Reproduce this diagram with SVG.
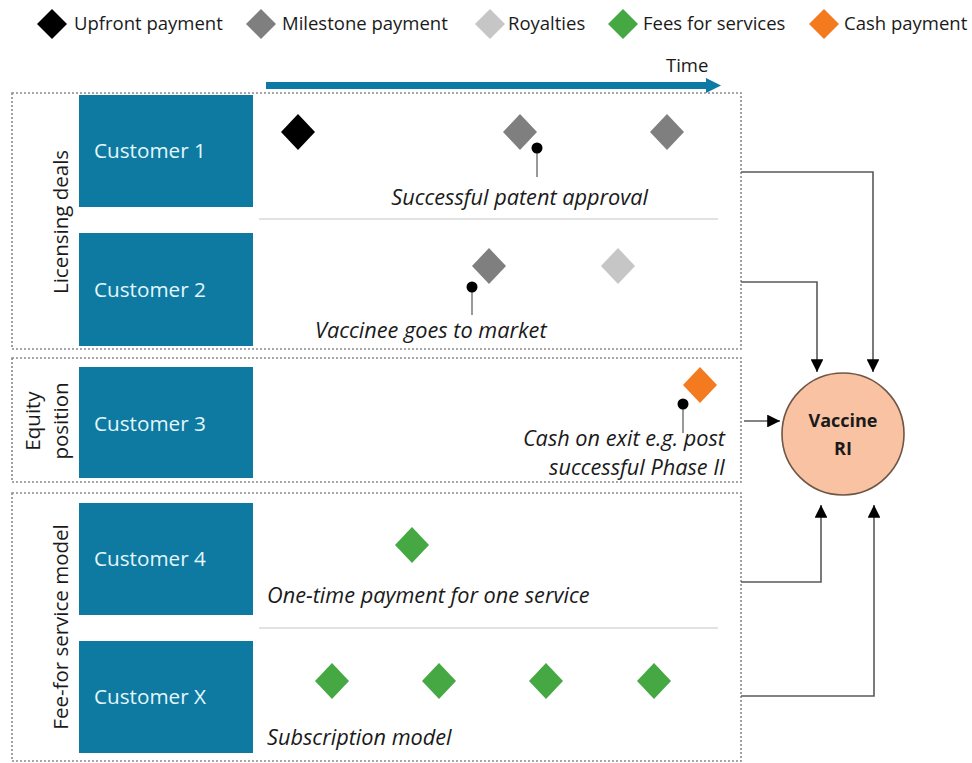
<svg xmlns="http://www.w3.org/2000/svg" width="972" height="763" viewBox="0 0 972 763">
<defs>
<style>
.lg{font-family:"Open Sans","Noto Sans",sans-serif;font-size:18.5px;fill:#1a1a1a}
.cust rect{fill:#0f7aa1}
.cust text{font-family:"Open Sans","Noto Sans",sans-serif;font-size:20.7px;fill:#e3f7fb}
.grp{fill:none;stroke:#8a8a8a;stroke-width:1.6;stroke-dasharray:2 2}
.side{font-family:"Open Sans","Noto Sans",sans-serif;font-size:20.5px;fill:#1a1a1a}
.note{font-family:"Open Sans","Noto Sans",sans-serif;font-size:21.7px;font-style:italic;fill:#1a1a1a}
.sep{stroke:#d9d9d9;stroke-width:1.5}
.pin line{stroke:#777;stroke-width:1.5}
.pin circle{fill:#000}
.conn{fill:none;stroke:#5a5a5a;stroke-width:1.6}
.blk{fill:#000}.mil{fill:#7f7f7f}.roy{fill:#c6c6c6}.fee{fill:#45a843}.cash{fill:#f47a20}
</style>
<marker id="ah" viewBox="0 0 10 10" refX="10" refY="5" markerWidth="8" markerHeight="8" orient="auto" markerUnits="strokeWidth">
<path d="M0,0 L10,5 L0,10 Z" fill="#000"/>
</marker>
<polygon id="d" points="0,-18 17,0 0,18 -17,0"/>
<polygon id="dl" points="0,-15 15,0 0,15 -15,0"/>
</defs>
<rect width="972" height="763" fill="#fff"/>

<g id="legend">
<use href="#dl" x="52" y="24" class="blk"/><text class="lg" x="74" y="30">Upfront payment</text>
<use href="#dl" x="261" y="24" class="mil"/><text class="lg" x="282" y="30">Milestone payment</text>
<use href="#dl" x="490" y="24" class="roy"/><text class="lg" x="508" y="30">Royalties</text>
<use href="#dl" x="623" y="24" class="fee"/><text class="lg" x="643" y="30">Fees for services</text>
<use href="#dl" x="824" y="24" class="cash"/><text class="lg" x="844" y="30">Cash payment</text>
</g>

<g id="time-axis">
<line x1="266" y1="85.5" x2="708" y2="85.5" stroke="#0d7aa6" stroke-width="7"/>
<polygon points="706,78 721,85.5 706,93" fill="#0d7aa6"/>
<text class="lg" x="666" y="72">Time</text>
</g>

<g id="group-licensing">
<rect class="grp" x="12" y="93" width="729" height="256"/>
<text class="side" transform="translate(68,222) rotate(-90)" text-anchor="middle">Licensing deals</text>
<line class="sep" x1="259" y1="219" x2="718" y2="219"/>
</g>
<g id="group-equity">
<rect class="grp" x="12" y="358" width="729" height="124"/>
<text class="side" transform="translate(40,421) rotate(-90)" text-anchor="middle">Equity</text>
<text class="side" transform="translate(68,421) rotate(-90)" text-anchor="middle">position</text>
</g>
<g id="group-fee">
<rect class="grp" x="12" y="493" width="729" height="268"/>
<text class="side" transform="translate(68,627) rotate(-90)" text-anchor="middle">Fee-for service model</text>
<line class="sep" x1="259" y1="628" x2="718" y2="628"/>
</g>

<g id="customer-1" class="cust"><rect x="79" y="95" width="174" height="112"/><text x="94" y="158">Customer 1</text></g>
<g id="customer-2" class="cust"><rect x="79" y="233" width="174" height="113"/><text x="94" y="297">Customer 2</text></g>
<g id="customer-3" class="cust"><rect x="79" y="367" width="174" height="111"/><text x="94" y="431">Customer 3</text></g>
<g id="customer-4" class="cust"><rect x="79" y="503" width="174" height="112"/><text x="94" y="566">Customer 4</text></g>
<g id="customer-x" class="cust"><rect x="79" y="641" width="174" height="112"/><text x="94" y="704">Customer X</text></g>

<g id="payments-1">
<use href="#d" x="298" y="132" class="blk"/>
<use href="#d" x="520" y="132" class="mil"/>
<use href="#d" x="667" y="132" class="mil"/>
<g class="pin"><line x1="537" y1="148" x2="537" y2="177"/><circle cx="537" cy="148" r="5.5"/></g>
<text class="note" x="648" y="205" text-anchor="end">Successful patent approval</text>
</g>
<g id="payments-2">
<use href="#d" x="489" y="266" class="mil"/>
<use href="#d" x="618" y="266" class="roy"/>
<g class="pin"><line x1="472" y1="287" x2="472" y2="315"/><circle cx="472" cy="287" r="5.5"/></g>
<text class="note" x="315" y="338">Vaccinee goes to market</text>
</g>
<g id="payments-3">
<use href="#d" x="700" y="385" class="cash"/>
<g class="pin"><line x1="683" y1="404" x2="683" y2="433"/><circle cx="683" cy="404" r="5.5"/></g>
<text class="note" x="725" y="446" text-anchor="end">Cash on exit e.g. post</text>
<text class="note" x="725" y="475" text-anchor="end">successful Phase II</text>
</g>
<g id="payments-4">
<use href="#d" x="412" y="545" class="fee"/>
<text class="note" x="267" y="603">One-time payment for one service</text>
</g>
<g id="payments-x">
<use href="#d" x="332" y="681" class="fee"/>
<use href="#d" x="439" y="681" class="fee"/>
<use href="#d" x="546" y="681" class="fee"/>
<use href="#d" x="654" y="681" class="fee"/>
<text class="note" x="267" y="745">Subscription model</text>
</g>

<g id="vaccine-ri">
<circle cx="843" cy="434" r="61" fill="#f9c3a3" stroke="#6e5646" stroke-width="1.6"/>
<text x="843" y="427" text-anchor="middle" font-family="'Open Sans','Noto Sans',sans-serif" font-size="18" font-weight="bold" fill="#1a1a1a">Vaccine</text>
<text x="843" y="455" text-anchor="middle" font-family="'Open Sans','Noto Sans',sans-serif" font-size="18" font-weight="bold" fill="#1a1a1a">RI</text>
</g>

<g id="connectors">
<path class="conn" d="M741,172 H873 V372" marker-end="url(#ah)"/>
<path class="conn" d="M741,282 H817 V372" marker-end="url(#ah)"/>
<path class="conn" d="M744,421 H780" marker-end="url(#ah)"/>
<path class="conn" d="M741,582 H821 V505" marker-end="url(#ah)"/>
<path class="conn" d="M741,696 H874 V505" marker-end="url(#ah)"/>
</g>
</svg>
